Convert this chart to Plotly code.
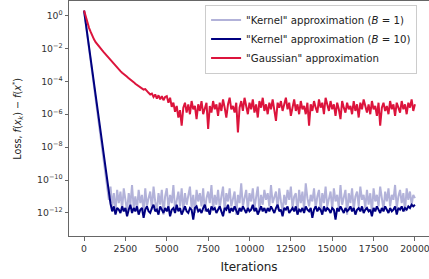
import plotly.graph_objects as go

iterations = list(range(0, 20001, 100))

# log10 of loss
gauss_log10 = [
    0.30, -0.10, -0.45, -0.75, -1.00, -1.25, -1.45, -1.62, -1.76, -1.89, -2.00,
    -2.12, -2.24, -2.36, -2.48, -2.60, -2.72, -2.84, -2.96, -3.08, -3.20,
    -3.30, -3.38, -3.48, -3.55, -3.66, -3.72, -3.82, -3.88, -3.95, -4.05,
    -4.15, -4.22, -4.28, -4.36, -4.42, -4.50, -4.47, -4.62, -4.70, -4.80,
    -4.75, -4.95, -4.80, -5.05, -4.85, -5.10, -4.90, -5.15, -4.95, -4.90,
    -5.30, -5.00, -5.55, -5.30, -5.85, -5.50, -6.20, -5.75, -6.70, -5.60,
    -5.3, -5.9, -5.4, -6.0, -5.2, -5.7, -5.5, -6.3, -5.4, -5.8,
    -5.2, -6.0, -5.6, -5.3, -6.9, -5.5, -5.9, -5.2, -5.7, -5.4,
    -6.1, -5.3, -5.8, -5.1, -5.6, -6.2, -5.4, -5.0, -5.7, -5.5,
    -5.9, -5.3, -7.1, -5.6, -5.2, -5.8, -5.0, -5.5, -6.0, -5.3,
    -5.7, -5.1, -5.9, -5.4, -6.2, -5.2, -5.6, -5.0, -5.8, -5.4,
    -6.0, -5.3, -5.7, -5.1, -5.9, -6.4, -5.3, -5.6, -5.2, -5.8,
    -5.4, -5.0, -5.7, -5.3, -6.1, -5.5, -5.1, -5.8, -5.4, -6.0,
    -5.2, -5.7, -5.5, -6.0, -5.3, -6.7, -5.4, -5.8, -5.2, -5.6,
    -5.9, -5.1, -5.6, -5.3, -6.0, -5.0, -5.5, -5.8, -5.2, -5.7,
    -5.4, -6.1, -5.3, -5.7, -6.3, -5.2, -5.6, -5.9, -5.3, -5.7,
    -5.5, -6.0, -5.2, -5.8, -5.4, -6.2, -5.3, -5.7, -5.1, -5.6,
    -5.9, -5.4, -6.0, -5.2, -5.7, -5.5, -6.1, -5.3, -6.7, -5.6,
    -5.3, -5.8, -5.5, -6.0, -5.2, -5.7, -5.4, -6.1, -5.3, -5.6,
    -5.9, -5.2, -5.7, -5.4, -6.0, -5.3, -5.6, -5.1, -5.8, -5.4,
]

kernel_b10_log10 = [
    0.30, -0.45, -1.20, -1.95, -2.70, -3.45, -4.20, -4.95, -5.70, -6.45,
    -7.20, -7.90, -8.60, -9.30, -10.00, -10.70, -11.45,
    -11.9, -11.6, -12.1, -11.7,
    -11.8, -12.0, -11.6, -11.9, -11.7, -12.2, -11.8, -11.5, -12.0, -11.7,
    -11.9, -11.6, -12.1, -11.8, -11.7, -12.3, -11.8, -11.6, -11.9, -12.0,
    -11.7, -11.5, -11.9, -11.8, -12.1, -11.6, -11.8, -12.0, -11.7, -11.9,
    -11.6, -12.2, -11.8, -11.7, -12.0, -11.5, -11.9, -11.7, -12.1, -11.8,
    -11.6, -11.9, -12.0, -11.7, -11.8, -12.4, -11.7, -11.6, -11.9, -11.8,
    -12.0, -11.7, -11.5, -11.9, -11.8, -12.1, -11.6, -11.8, -11.7, -12.0,
    -11.8, -11.6, -11.9, -12.2, -11.7, -11.8, -11.5, -12.0, -11.7, -11.9,
    -11.6, -11.8, -12.1, -11.7, -11.9, -11.6, -11.8, -12.0, -11.7, -11.9,
    -11.8, -11.5, -11.9, -11.7, -12.1, -11.8, -11.6, -11.9, -11.7, -12.0,
    -11.7, -11.9, -11.6, -11.8, -12.0, -11.7, -11.5, -11.9, -11.8, -12.2,
    -11.7, -11.8, -11.6, -12.0, -11.8, -11.7, -11.9, -11.6, -12.1, -11.8,
    -11.9, -11.7, -12.0, -11.6, -11.8, -11.9, -11.7, -12.3, -11.8, -11.6,
    -11.9, -11.7, -11.8, -12.1, -11.6, -11.9, -11.7, -11.8, -12.0, -11.7,
    -11.8, -12.4, -11.7, -11.9, -11.6, -11.8, -12.0, -11.7, -11.9, -11.8,
    -11.6, -11.9, -11.7, -12.1, -11.8, -11.7, -11.9, -11.6, -12.0, -11.8,
    -11.7, -11.9, -11.8, -12.2, -11.7, -11.9, -11.6, -11.8, -12.0, -11.7,
    -11.9, -11.6, -11.8, -12.0, -11.7, -11.9, -11.8, -11.6, -12.1, -11.7,
    -11.8, -11.6, -11.9, -11.7, -11.8, -11.6, -11.7, -11.5, -11.6, -11.5,
]

kernel_b1_log10 = [
    0.30, -0.48, -1.26, -2.04, -2.82, -3.60, -4.38, -5.16, -5.94, -6.72,
    -7.50, -8.28, -9.06, -9.84, -10.62, -11.2,
    -10.4, -11.6, -10.8, -11.9, -10.6,
    -11.4, -10.7, -11.8, -10.5, -11.3, -11.9, -10.8, -11.5, -10.3, -11.7,
    -11.0, -11.8, -10.6, -11.4, -10.9, -12.0, -10.5, -11.6, -11.1, -10.7,
    -11.8, -10.4, -11.3, -11.9, -10.8, -11.5, -10.6, -12.1, -11.0, -10.5,
    -11.7, -10.9, -11.4, -10.3, -11.8, -11.1, -10.7, -11.6, -10.5, -11.9,
    -10.8, -11.5, -11.0, -10.4, -11.7, -10.9, -12.0, -10.6, -11.3, -10.8,
    -11.6, -10.5, -11.9, -11.1, -10.7, -11.4, -10.3, -11.8, -10.9, -11.5,
    -10.6, -11.7, -11.0, -10.4, -11.9, -10.8, -11.3, -10.5, -11.6, -11.1,
    -10.7, -12.1, -10.9, -11.4, -10.2, -11.6, -11.0, -10.6, -11.8, -10.8,
    -11.3, -10.5, -11.7, -11.0, -10.4, -11.9, -10.9, -11.5, -10.6, -11.2,
    -10.8, -11.6, -10.3, -11.4, -11.0, -10.7, -11.8, -10.5, -11.3, -11.9,
    -10.9, -11.5, -10.6, -11.2, -10.4, -11.7, -11.0, -10.8, -12.0, -10.6,
    -11.4, -10.7, -11.8, -10.2, -11.1, -11.6, -10.9, -11.3, -10.5, -11.7,
    -11.0, -10.6, -11.9, -10.8, -11.4, -10.4, -11.6, -11.1, -10.7, -11.8,
    -10.5, -11.3, -10.9, -11.7, -10.3, -11.5, -11.0, -10.6, -12.1, -10.8,
    -11.4, -10.5, -11.8, -11.0, -10.7, -11.6, -10.4, -11.2, -10.9, -11.7,
    -10.6, -11.5, -10.8, -12.0, -10.5, -11.3, -10.9, -11.6, -10.4, -11.1,
    -11.8, -10.7, -11.3, -10.5, -11.6, -10.9, -11.2, -10.3, -11.7, -11.0,
    -10.6, -11.4, -10.8, -11.9, -10.5, -11.2, -10.7, -11.5, -10.9, -11.1,
]

series_names = [
    '"Kernel" approximation (<i>B</i> = 1)',
    '"Kernel" approximation (<i>B</i> = 10)',
    '"Gaussian" approximation',
]
series_colors = ["#b2b2d9", "#000080", "#dc143c"]

y_tick_exps = [0, -2, -4, -6, -8, -10, -12]
y_tick_text = ["10<sup>%s</sup>" % (str(e).replace("-", "\u2212")) for e in y_tick_exps]
x_tick_vals = [0, 2500, 5000, 7500, 10000, 12500, 15000, 17500, 20000]
x_tick_text = [str(v) for v in x_tick_vals]

fig = go.Figure()
for name, vals, col in zip(series_names,
                           [kernel_b1_log10, kernel_b10_log10, gauss_log10],
                           series_colors):
    fig.add_trace(go.Scatter(
        x=iterations, y=[10 ** v for v in vals], mode="lines", name=name,
        line=dict(color=col, width=2.0),
    ))

font_family = "DejaVu Sans"
axis_col = "#666666"
fig.update_layout(
    width=429, height=279,
    margin=dict(l=69, r=0, t=1, b=43, autoexpand=False),
    paper_bgcolor="white", plot_bgcolor="white",
    font=dict(family=font_family, size=9, color="#333333"),
    showlegend=True,
    legend=dict(
        x=0.378, y=0.985, xanchor="left", yanchor="top",
        bgcolor="rgba(255,255,255,0.85)", bordercolor="#cccccc", borderwidth=1,
        font=dict(family=font_family, size=10.2, color="#222222"),
        tracegroupgap=0, itemwidth=30,
    ),
    xaxis=dict(
        range=[-910, 20850], tickmode="array", tickvals=x_tick_vals, ticktext=x_tick_text,
        ticks="outside", ticklen=3.5, tickcolor=axis_col, showgrid=False, zeroline=False,
        showline=True, linecolor=axis_col, linewidth=1, mirror=True, automargin=False,
        ticklabeloverflow="allow",
        title=dict(text="Iterations", font=dict(size=12, color="#222222"), standoff=9),
        tickfont=dict(size=9.3, color="#333333"),
    ),
    yaxis=dict(
        type="log", range=[-13.40, 0.88], tickmode="array",
        tickvals=[10 ** e for e in y_tick_exps], ticktext=y_tick_text,
        ticks="outside", ticklen=3.5, tickcolor=axis_col, showgrid=False, zeroline=False,
        showline=True, linecolor=axis_col, linewidth=1, mirror=True, automargin=False,
        tickfont=dict(size=9.3, color="#333333"),
    ),
    annotations=[dict(
        text="Loss, <i>f</i>(<i>x</i><sub><i>k</i></sub>) \u2212 <i>f</i>(<i>x</i><sup>*</sup>)",
        xref="paper", yref="paper", x=-0.144, y=0.5, xanchor="center", yanchor="middle",
        textangle=-90, showarrow=False, font=dict(family=font_family, size=9.6, color="#222222"),
    )],
)

fig.write_html("out.html", config={"displayModeBar": False},
               post_script="document.body.style.margin='0';document.body.style.overflow='hidden';")
